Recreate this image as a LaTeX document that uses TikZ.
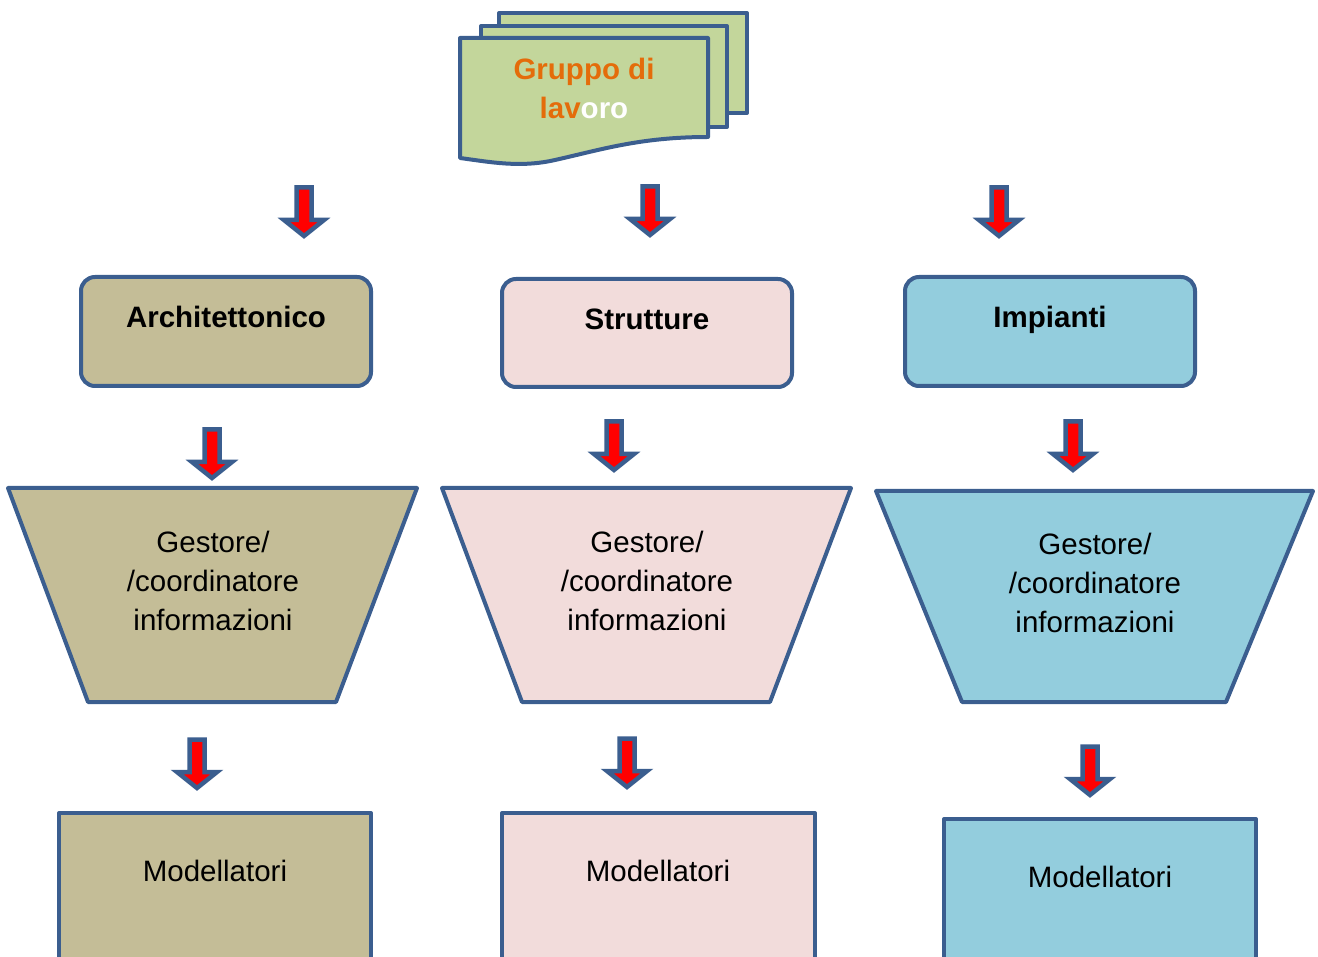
\documentclass[tikz,border=0pt]{standalone}
\usepackage{fontspec}
\setmainfont{Liberation Sans}
\definecolor{edge}{HTML}{3B5E8F}
\definecolor{docgreen}{HTML}{C3D69B}
\definecolor{docorange}{HTML}{E46C0A}
\definecolor{tan}{HTML}{C4BD97}
\definecolor{rose}{HTML}{F2DCDB}
\definecolor{sky}{HTML}{93CDDD}
\definecolor{arrowred}{HTML}{FF0000}
\tikzset{
  shapeline/.style={draw=edge, line width=4pt, line join=round},
  roundbox/.style={shapeline, rounded corners=14pt},
  label/.style={font=\fontsize{29.5}{39}\selectfont, align=center, inner sep=0pt},
  boldlabel/.style={label, font=\fontsize{29.5}{39}\selectfont\bfseries},
  blockarrow/.pic={
    \draw[draw=edge, fill=arrowred, line width=4.5pt, line join=miter]
      (-7.5,2.5) -- (7.5,2.5) -- (7.5,35) -- (20,35) -- (0,51)
      -- (-20,35) -- (-7.5,35) -- cycle;
  }
}
\begin{document}
\begin{tikzpicture}[x=1pt,y=-1pt]
\useasboundingbox (0,0) rectangle (1318,957);
\clip (0,0) rectangle (1318,957);

% stacked document sheets
\draw[shapeline, fill=docgreen] (499,13) rectangle (747,113);
\draw[shapeline, fill=docgreen] (481,26) rectangle (727,127);
\draw[shapeline, fill=docgreen] (460,38) -- (708,38) -- (708,137)
  .. controls (640,137) and (600,150) .. (555,160)
  .. controls (520,168) and (490,162) .. (460,158) -- cycle;
\node[boldlabel, text=docorange] (team) at (584,88)
  {Gruppo di\\lav\textcolor{white}{oro}};

% top row arrows
\pic (a1) at (304,185) {blockarrow};
\pic (a2) at (650,184) {blockarrow};
\pic (a3) at (999,185) {blockarrow};

% discipline boxes
\draw[roundbox, fill=tan] (81,277) rectangle (371,386);
\node[boldlabel, anchor=base] (arch) at (226,327.5) {Architettonico};
\draw[roundbox, fill=rose] (502,279) rectangle (792,387);
\node[boldlabel, anchor=base] (strut) at (647,329.5) {Strutture};
\draw[roundbox, fill=sky] (905,277) rectangle (1195,386);
\node[boldlabel, anchor=base] (imp) at (1050,327.5) {Impianti};

% middle row arrows
\pic (b1) at (212,427) {blockarrow};
\pic (b2) at (614,419) {blockarrow};
\pic (b3) at (1073,419) {blockarrow};

% information managers
\draw[shapeline, fill=tan] (8,488) -- (417,488) -- (336,702) -- (88,702) -- cycle;
\node[label] (g1) at (213,580.5) {Gestore/\\/coordinatore\\informazioni};
\draw[shapeline, fill=rose] (442,488) -- (851,488) -- (770,702) -- (522,702) -- cycle;
\node[label] (g2) at (647,580.5) {Gestore/\\/coordinatore\\informazioni};
\draw[shapeline, fill=sky] (876,491) -- (1313,491) -- (1226,702) -- (962,702) -- cycle;
\node[label] (g3) at (1095,582.5) {Gestore/\\/coordinatore\\informazioni};

% bottom row arrows
\pic (c1) at (197,737) {blockarrow};
\pic (c2) at (627,736) {blockarrow};
\pic (c3) at (1090,744) {blockarrow};

% modellers
\draw[shapeline, fill=tan] (59,813) rectangle (371,990);
\node[label, anchor=base] (m1) at (215,881.5) {Modellatori};
\draw[shapeline, fill=rose] (502,813) rectangle (815,990);
\node[label, anchor=base] (m2) at (658,881.5) {Modellatori};
\draw[shapeline, fill=sky] (944,819) rectangle (1256,990);
\node[label, anchor=base] (m3) at (1100,887.5) {Modellatori};
\end{tikzpicture}
\end{document}
